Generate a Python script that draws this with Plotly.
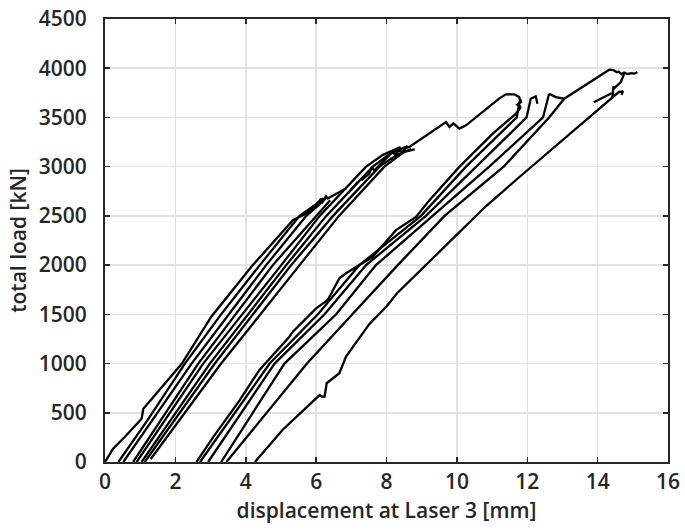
import plotly.graph_objects as go

# ---- data ----
# virgin loading envelope, first part
env1_x = [0.0, 0.23, 0.56, 1.04, 1.09, 2.18, 3.02, 3.3, 4.16, 5.34, 5.72, 6.05, 6.12, 6.18, 6.28, 6.33, 6.85]
env1_y = [0, 136, 254, 440, 541, 997, 1476, 1600, 1983, 2457, 2525, 2626, 2665, 2640, 2700, 2677, 2778]
dash1_x = [6.9, 7.18]
dash1_y = [2728, 2845]
env2_x = [7.28, 7.51, 7.58, 7.66, 7.72, 7.99, 8.1, 8.17, 8.25, 8.35, 8.45, 8.55, 8.65, 9.22, 9.65, 9.69,
          9.79, 9.9, 10.07, 10.26, 11.2, 11.39, 11.63, 11.77, 11.82, 11.72, 11.82]
env2_y = [2862, 2930, 2990, 2960, 2985, 3083, 3130, 3150, 3120, 3165, 3150, 3190, 3200, 3336, 3437, 3454,
          3403, 3440, 3387, 3420, 3691, 3735, 3735, 3707, 3657, 3630, 3606]
env3_x = [12.62, 12.81, 13.05, 14.33, 14.45, 14.55, 14.6, 14.68, 14.75, 14.85, 14.95, 15.05, 15.13]
env3_y = [3741, 3707, 3690, 3985, 3980, 3960, 3965, 3940, 3955, 3940, 3950, 3945, 3961]

# first group of cycles
a2_x = [0.38, 1.2, 2.27, 3.3, 4.4, 5.53, 6.0, 6.2]
a2_y = [0, 420, 1000, 1500, 2000, 2500, 2620, 2680]
a3_x = [0.52, 2.46, 4.58, 5.72, 6.1, 6.3]
a3_y = [0, 1000, 2000, 2500, 2620, 2690]
a4_x = [0.8, 2.65, 4.77, 6.0, 6.25, 6.4]
a4_y = [0, 1000, 2000, 2500, 2600, 2660]
a5_x = [0.9, 2.79, 5.01, 6.1, 7.42, 7.9, 8.4]
a5_y = [0, 1000, 2000, 2500, 3000, 3120, 3200]
a6_x = [1.04, 2.98, 5.15, 6.29, 7.61, 8.1, 8.6]
a6_y = [0, 1000, 2000, 2500, 3000, 3130, 3210]
a7_x = [1.13, 3.12, 5.29, 6.48, 7.8, 8.3, 8.7]
a7_y = [0, 1000, 2000, 2500, 3000, 3120, 3180]
a8_x = [1.3, 3.3, 5.53, 6.65, 7.94, 8.5, 8.8]
a8_y = [30, 1000, 2000, 2500, 3000, 3150, 3175]

# second group of cycles
b1_x = [2.6, 3.07, 3.83, 4.25, 4.39, 5.24, 5.34, 6.0, 6.33, 6.66, 6.85, 7.61, 8.27, 8.84, 9.22, 10.07, 11.02, 11.68, 11.82]
b1_y = [0, 250, 628, 868, 936, 1273, 1324, 1561, 1646, 1866, 1917, 2085, 2355, 2490, 2660, 2998, 3336, 3539, 3606]
b2_x = [2.7, 4.68, 6.05, 7.23, 8.98, 10.26, 11.7, 11.8]
b2_y = [0, 1000, 1500, 2000, 2500, 3000, 3500, 3690]
b3_x = [2.93, 4.82, 6.24, 7.42, 9.12, 10.54, 11.98, 12.1, 12.24, 12.29]
b3_y = [0, 1000, 1500, 2000, 2500, 3000, 3500, 3690, 3714, 3640]
b4_x = [3.3, 5.1, 6.57, 7.7, 9.31, 10.92, 12.45, 12.62]
b4_y = [0, 1000, 1500, 2000, 2500, 3000, 3500, 3741]
b5_x = [3.45, 5.74, 7.03, 8.32, 9.65, 11.33, 12.62, 13.05]
b5_y = [0, 1000, 1500, 2000, 2500, 3000, 3500, 3690]

# last loading line
c1_x = [4.26, 5.05, 6.1, 6.16, 6.24, 6.3, 6.66, 6.85, 7.51, 8.0, 8.3, 9.5, 10.83, 11.67, 14.6, 14.72, 14.68]
c1_y = [0, 328, 680, 665, 665, 800, 902, 1071, 1400, 1580, 1714, 2136, 2600, 2862, 3758, 3768, 3730]
hook_x = [14.75, 14.66, 14.45]
hook_y = [3940, 3860, 3790]
dash2_x = [13.89, 14.4]
dash2_y = [3655, 3745]
vert_x = [14.42, 14.45]
vert_y = [3700, 3820]

curves = [
    (env1_x, env1_y), (dash1_x, dash1_y), (env2_x, env2_y), (env3_x, env3_y),
    (a2_x, a2_y), (a3_x, a3_y), (a4_x, a4_y), (a5_x, a5_y), (a6_x, a6_y), (a7_x, a7_y), (a8_x, a8_y),
    (b1_x, b1_y), (b2_x, b2_y), (b3_x, b3_y), (b4_x, b4_y), (b5_x, b5_y),
    (c1_x, c1_y), (hook_x, hook_y), (dash2_x, dash2_y), (vert_x, vert_y),
]

x_ticks = [0, 2, 4, 6, 8, 10, 12, 14, 16]
y_ticks = [0, 500, 1000, 1500, 2000, 2500, 3000, 3500, 4000, 4500]

fig = go.Figure()
for cx, cy in curves:
    fig.add_trace(go.Scatter(x=cx, y=cy, mode="lines",
                             line=dict(color="black", width=2.3),
                             showlegend=False, hoverinfo="skip"))

font = dict(family="Open Sans", size=21, color="#262626", weight=600)
axis_common = dict(
    showline=True, linecolor="#262626", linewidth=2,
    mirror="ticks", ticks="inside", ticklen=5, tickwidth=1.5, tickcolor="#262626",
    showgrid=True, gridcolor="#e2e2e2", gridwidth=1.5,
    zeroline=False, tickfont=font, ticklabeloverflow="allow",
)
fig.update_xaxes(range=[0, 16], tickvals=x_ticks, ticklabelstandoff=0,
                 title=dict(text="displacement at Laser 3 [mm]", font=font, standoff=9),
                 **axis_common)
fig.update_yaxes(range=[0, 4500], tickvals=y_ticks, ticklabelstandoff=12,
                 title=dict(text="total load [kN]", font=font, standoff=6),
                 **axis_common)
fig.update_layout(
    width=685, height=531,
    margin=dict(l=105, r=17, t=19, b=69, autoexpand=False),
    paper_bgcolor="white", plot_bgcolor="white",
)
# remove the page's default body margin so the figure fills the window exactly
fig.write_html("out.html",
               config={"displayModeBar": False, "staticPlot": True},
               post_script="document.body.style.margin='0';document.body.style.overflow='hidden';")
